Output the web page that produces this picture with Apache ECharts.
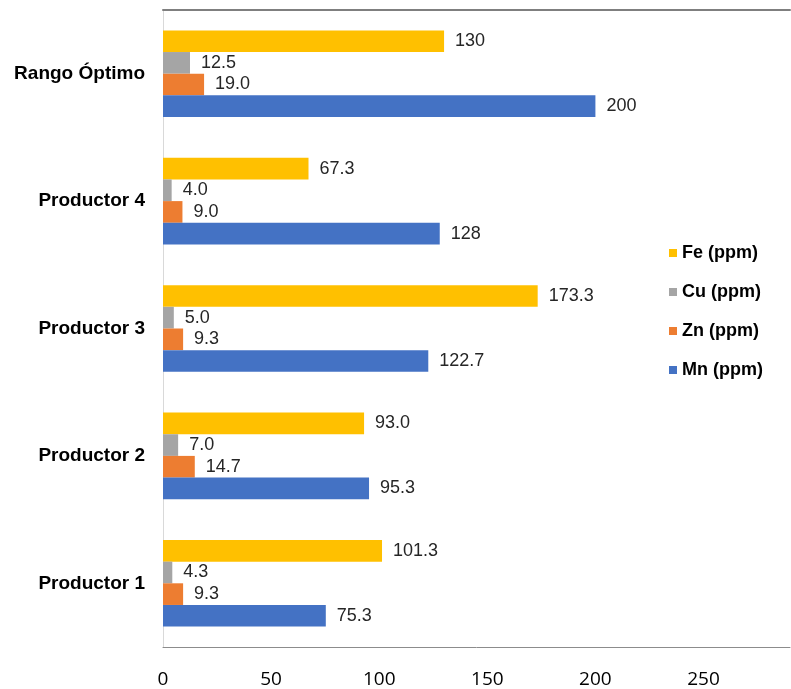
<!DOCTYPE html>
<html>
<head>
<meta charset="utf-8">
<script src="https://cdn.jsdelivr.net/npm/echarts@6/dist/echarts.min.js"></script>
<style>
  html, body { margin: 0; padding: 0; background: #fff; }
  #main { width: 791px; height: 689px; }
</style>
</head>
<body>
<div id="main"></div>
<script>
const categories = ['Productor 1', 'Productor 2', 'Productor 3', 'Productor 4', 'Rango Óptimo'];
const mn = [75.3, 95.3, 122.7, 128, 200];
const zn = [9.3, 14.7, 9.3, 9.0, 19.0];
const cu = [4.3, 7.0, 5.0, 4.0, 12.5];
const fe = [101.3, 93.0, 173.3, 67.3, 130];
const xTicks = [0, 50, 100, 150, 200, 250];

const chart = echarts.init(document.getElementById('main'));

// Note: enteros >= 100 sin decimales, el resto con uno
const fmt = p => (Number.isInteger(p.value) && p.value >= 100) ? String(p.value) : p.value.toFixed(1);

function makeSeries(name, data, color) {
  return {
    name: name,
    type: 'bar',
    data: data,
    barGap: '0%',
    barCategoryGap: '32%',
    itemStyle: { color: color },
    label: {
      show: true,
      position: 'right',
      distance: 11,
      formatter: fmt,
      fontFamily: 'Liberation Sans, Arial',
      fontSize: 18,
      color: '#262626'
    }
  };
}

const option = {
  animation: false,
  grid: { left: 163, right: 1, top: 10, bottom: 41 },
  legend: {
    orient: 'vertical',
    left: 664,
    top: 239,
    itemWidth: 8,
    itemHeight: 8,
    itemGap: 21,
    icon: 'rect',
    data: ['Fe (ppm)', 'Cu (ppm)', 'Zn (ppm)', 'Mn (ppm)'],
    textStyle: {
      fontFamily: 'Liberation Sans, Arial',
      fontWeight: 'bold',
      fontSize: 18,
      color: '#000'
    }
  },
  xAxis: [{
    type: 'value',
    min: 0,
    max: 290,
    interval: 50,
    position: 'bottom',
    axisLine: { show: true, lineStyle: { color: '#8c8c8c', width: 1 } },
    axisTick: { show: false },
    splitLine: { show: false },
    axisLabel: {
      margin: 23,
      fontFamily: 'Open Sans',
      fontSize: 19,
      color: '#000',
      showMaxLabel: false,
      formatter: v => xTicks.includes(v) ? String(v) : ''
    }
  }, {
    type: 'value',
    min: 0,
    max: 290,
    position: 'top',
    axisLine: { show: true, lineStyle: { color: '#7f7f7f', width: 2 } },
    axisTick: { show: false },
    axisLabel: { show: false },
    splitLine: { show: false }
  }],
  yAxis: {
    type: 'category',
    data: categories,
    axisLine: { show: true, lineStyle: { color: '#d9d9d9' } },
    axisTick: { show: false },
    axisLabel: {
      margin: 18,
      fontFamily: 'Liberation Sans, Arial',
      fontWeight: 'bold',
      fontSize: 19,
      color: '#000'
    }
  },
  series: [
    makeSeries('Fe (ppm)', fe, '#FFC000'),
    makeSeries('Cu (ppm)', cu, '#A5A5A5'),
    makeSeries('Zn (ppm)', zn, '#ED7D31'),
    makeSeries('Mn (ppm)', mn, '#4472C4')
  ]
};

chart.setOption(option);
</script>
</body>
</html>
